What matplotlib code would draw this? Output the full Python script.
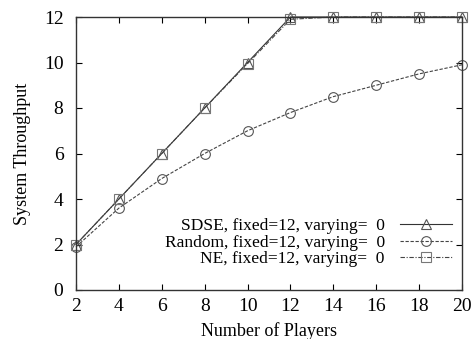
import matplotlib
matplotlib.use('Agg')
import matplotlib.pyplot as plt

players = [2, 4, 6, 8, 10, 12, 14, 16, 18, 20]
sdse = [2, 4, 6, 8, 10, 12, 12, 12, 12, 12]
rand = [1.9, 3.6, 4.9, 6.0, 7.0, 7.8, 8.5, 9.0, 9.5, 9.9]
ne = [2, 4, 6, 8, 9.95, 11.9, 12, 12, 12, 12]

plt.rcParams['font.family'] = ['Liberation Serif', 'DejaVu Serif']
plt.rcParams['font.size'] = 12

fig = plt.figure(figsize=(4.73, 3.39), dpi=100)
ax = fig.add_axes([76/473, 1 - 290/339, (462-76)/473, (290-17)/339])

ax.plot(players, sdse, color='#333333', lw=0.8, marker='^', ms=7, mfc='none',
        mec='#555555', mew=0.8, label='SDSE, fixed=12, varying=  0', clip_on=False)
ax.plot(players, rand, color='#444444', lw=0.8, ls=(0, (3, 1.5)), marker='o', ms=7,
        mfc='none', mec='#555555', mew=0.8, label='Random, fixed=12, varying=  0',
        clip_on=False)
ax.plot(players, ne, color='#444444', lw=0.8, ls=(0, (4, 1.5, 1, 1.5)), marker='s', ms=7,
        mfc='none', mec='#777777', mew=0.8, label='NE, fixed=12, varying=  0',
        clip_on=False)

ax.set_xlim(2, 20)
ax.set_ylim(0, 12)
ax.set_xticks(players)
ax.set_yticks([0, 2, 4, 6, 8, 10, 12])
ax.tick_params(direction='in', top=True, right=True, length=4, width=0.8, labelsize=14)
ax.tick_params(axis='x', pad=6)
ax.tick_params(axis='y', pad=9)
for s in ax.spines.values():
    s.set_linewidth(1.0)
    s.set_color('#333333')

ax.set_xlabel('Number of Players', fontsize=13, labelpad=5)
ax.set_ylabel('System Throughput', fontsize=13, labelpad=9)

leg = ax.legend(loc='lower right', bbox_to_anchor=(0.975, 0.085), frameon=False,
                markerfirst=False, fontsize=12.5, handlelength=3.0, labelspacing=0.0,
                handletextpad=0.9, borderaxespad=0, borderpad=0)
for t in leg.get_texts():
    t.set_ha('right')
leg._legend_box.align = 'right'

fig.savefig('out.png', dpi=100)
